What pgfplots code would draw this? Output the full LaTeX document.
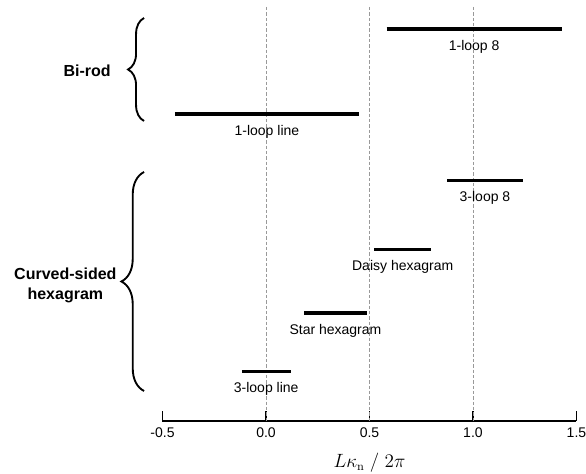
\documentclass[border=0pt]{standalone}
\usepackage{pgfplots}
\pgfplotsset{compat=1.18}
\usepackage[no-math]{fontspec}
\setmainfont{Liberation Sans}
\usetikzlibrary{decorations.pathreplacing}
\begin{document}
\begin{tikzpicture}
\begin{axis}[
  scale only axis, width=310.5pt, height=310.5pt,
  xmin=-0.5, xmax=1.5, ymin=-421, ymax=-7,
  axis x line=bottom, axis y line=none,
  axis line style={-, black, line width=0.9pt},
  xtick={-0.5,0,0.5,1,1.5}, ytick=\empty,
  tick align=inside, major tick length=7.5pt,
  tick style={black, line width=0.9pt},
  xticklabel style={font=\fontsize{10.5}{12}\selectfont, anchor=north, inner sep=0pt, yshift=-5pt,
    /pgf/number format/.cd, fixed, fixed zerofill, precision=1, assume math mode=true},
  xlabel={$L\kappa_{\mathrm{n}}\;/\;2\pi$},
  xlabel style={at={(axis description cs:0.5,0)}, anchor=center, yshift=-31.5pt, font=\fontsize{13.5}{15}\selectfont},
  clip=false,
]
% dashed guides
\addplot[gray!80, dash pattern=on 2.5pt off 1.5pt, line width=0.5pt] coordinates {(0,-7) (0,-421)};
\addplot[gray!80, dash pattern=on 2.5pt off 1.5pt, line width=0.5pt] coordinates {(0.5,-7) (0.5,-421)};
\addplot[gray!80, dash pattern=on 2.5pt off 1.5pt, line width=0.5pt] coordinates {(1,-7) (1,-421)};
% ranges
\addplot[black, line width=2.7pt] coordinates {(0.583,-29) (1.428,-29)};
\addplot[black, line width=2.7pt] coordinates {(-0.440,-114) (0.449,-114)};
\addplot[black, line width=2.7pt] coordinates {(0.876,-180.7) (1.240,-180.7)};
\addplot[black, line width=2.7pt] coordinates {(0.523,-249.7) (0.798,-249.7)};
\addplot[black, line width=2.7pt] coordinates {(0.184,-313.3) (0.487,-313.3)};
\addplot[black, line width=2.7pt] coordinates {(-0.117,-371.7) (0.119,-371.7)};
% labels
\begin{scope}[every node/.style={anchor=base, inner sep=0pt, font=\fontsize{10.5}{12}\selectfont}]
\node at (axis cs:1.0055,-50.5) {1-loop 8};
\node at (axis cs:0.0045,-135.5) {1-loop line};
\node at (axis cs:1.058,-202) {3-loop 8};
\node at (axis cs:0.6605,-271) {Daisy hexagram};
\node at (axis cs:0.3355,-335) {Star hexagram};
\node at (axis cs:0.001,-393) {3-loop line};
\end{scope}
% braces
\draw[decorate, decoration={brace, amplitude=12pt}, line width=1.4pt] (axis cs:-0.589,-121) -- (axis cs:-0.589,-18);
\draw[decorate, decoration={brace, amplitude=17pt}, line width=1.4pt] (axis cs:-0.589,-391) -- (axis cs:-0.589,-172);
\node[anchor=east, inner sep=0pt, font=\bfseries\fontsize{12}{15}\selectfont] at (axis cs:-0.749,-71) {Bi-rod};
\node[anchor=east, inner sep=0pt, align=center, font=\bfseries\fontsize{12}{15}\selectfont] at (axis cs:-0.721,-285) {Curved-sided\\hexagram};
\coordinate (bbA) at (axis cs:-1.285,0);
\coordinate (bbB) at (axis cs:1.546,-474);
\end{axis}
\pgfresetboundingbox
\path[use as bounding box] (bbA) rectangle (bbB);
\end{tikzpicture}
\end{document}
